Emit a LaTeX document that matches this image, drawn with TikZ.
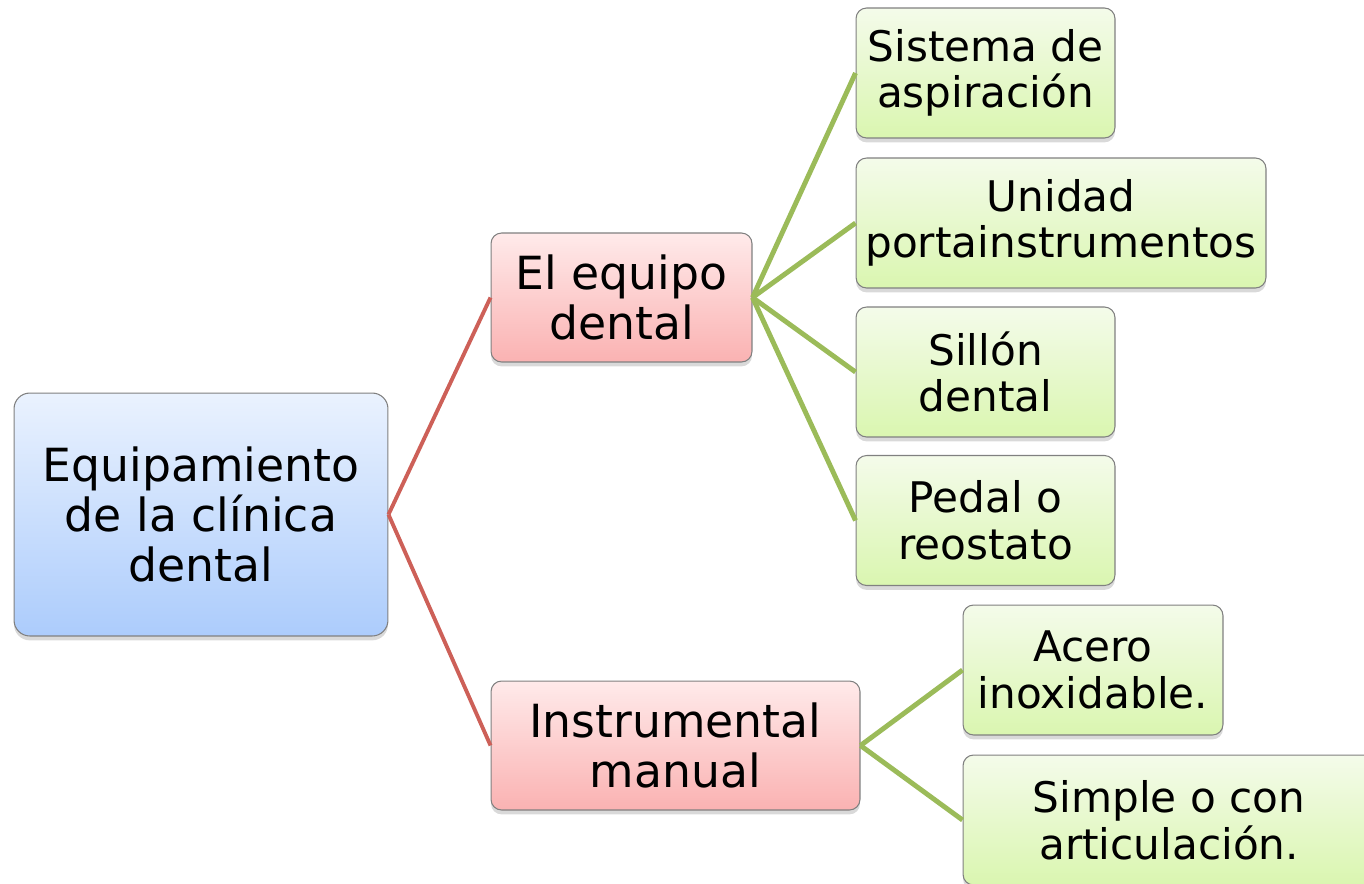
\documentclass[tikz,border=0pt]{standalone}
\usepackage{fontspec}
\setmainfont{DejaVu Sans}
\usepackage{xcolor}
\usetikzlibrary{shadows}

\definecolor{rootTop}{RGB}{234,242,254}
\definecolor{rootBot}{RGB}{172,204,252}
\definecolor{midTop}{RGB}{255,234,234}
\definecolor{midBot}{RGB}{250,178,178}
\definecolor{leafTop}{RGB}{244,251,234}
\definecolor{leafBot}{RGB}{218,246,176}
\definecolor{redline}{RGB}{205,96,88}
\definecolor{greenline}{RGB}{155,187,89}

\tikzset{
	box/.style={draw=black!50, line width=0.6pt, rounded corners=6pt, align=center,
		inner sep=0pt, drop shadow={shadow xshift=0pt, shadow yshift=-2.5pt, opacity=0.3}},
	rootbox/.style={box, rounded corners=9pt, top color=rootTop, bottom color=rootBot,
		font=\fontsize{26}{28.5}\selectfont},
	midbox/.style={box, top color=midTop, bottom color=midBot,
		font=\fontsize{26}{28.5}\selectfont, minimum height=2.58cm},
	leafbox/.style={box, top color=leafTop, bottom color=leafBot,
		font=\fontsize{24}{26.5}\selectfont, minimum height=2.6cm},
	redlink/.style={draw=redline, line width=2.2pt},
	greenlink/.style={draw=greenline, line width=2.8pt}
}

\begin{document}
\begin{tikzpicture}[x=0.02cm, y=-0.02cm]
		\useasboundingbox (0,0) rectangle (1364,883);

		\node[rootbox, minimum width=7.48cm, minimum height=4.86cm] (root) at (201,514.5)
			{Equipamiento\\de la clínica\\dental};

		\node[midbox, minimum width=5.22cm] (equipo) at (621.5,297.5) {El equipo\\dental};
		\node[midbox, minimum width=7.38cm] (instr) at (675.5,745.5) {Instrumental\\manual};

		\node[leafbox, minimum width=5.18cm] (aspir) at (985.5,73) {Sistema de\\aspiración};
		\node[leafbox, minimum width=8.2cm] (unidad) at (1061,223) {Unidad\\portainstrumentos};
		\node[leafbox, minimum width=5.18cm] (sillon) at (985.5,372) {Sillón\\dental};
		\node[leafbox, minimum width=5.18cm] (pedal) at (985.5,520.5) {Pedal o\\reostato};
		\node[leafbox, minimum width=5.2cm] (acero) at (1093,670) {Acero\\inoxidable.};
		\node[leafbox, minimum width=8.24cm] (simple) at (1169,820) {Simple o con\\articulación.};

		\draw[redlink] (root.east) -- (equipo.west);
		\draw[redlink] (root.east) -- (instr.west);

		\foreach \n in {aspir, unidad, sillon, pedal} {
				\draw[greenlink] (equipo.east) -- (\n.west);
			}
		\foreach \n in {acero, simple} {
				\draw[greenlink] (instr.east) -- (\n.west);
			}
	\end{tikzpicture}
\end{document}
